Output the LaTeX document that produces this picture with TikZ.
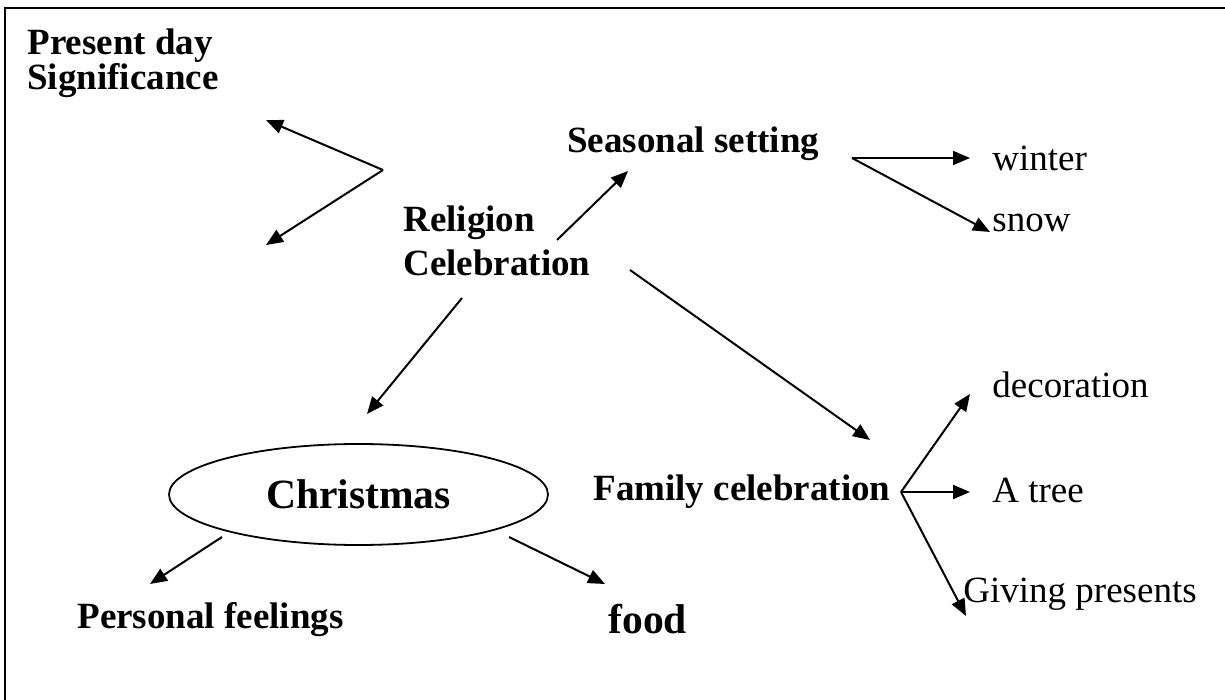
\documentclass[tikz,border=0pt]{standalone}
\usepackage{fontspec}
\setmainfont{Liberation Serif}
\usetikzlibrary{arrows.meta,shapes.geometric}
\begin{document}
\begin{tikzpicture}[x=0.5pt,y=-0.5pt,
  lbl/.style={anchor=base west,inner sep=0pt,font=\fontsize{18.5}{20}\selectfont\bfseries},
  leaf/.style={anchor=base west,inner sep=0pt,font=\fontsize{18.5}{20}\selectfont},
  big/.style={inner sep=0pt,font=\fontsize{20.8}{23}\selectfont\bfseries},
  conn/.style={line width=1pt,-{Triangle[length=8.5pt,width=7pt]}},
  frame/.style={line width=1pt}]
\useasboundingbox (0,0) rectangle (1225,700);
\fill[white] (0,0) rectangle (1225,700);
\draw[frame] (5,700) -- (5,8) -- (1225,8);
% texts
\node[lbl] (pd1) at (27,55) {Present day};
\node[lbl] (pd2) at (27,90) {Significance};
\node[lbl] (seas) at (567,153) {Seasonal setting};
\node[leaf] (winter) at (992,171) {winter};
\node[leaf] (snow) at (992,232) {snow};
\node[lbl] (rel1) at (403,232) {Religion};
\node[lbl] (rel2) at (403,275) {Celebration};
\node[leaf] (deco) at (992,397) {decoration};
\node[big,draw,ellipse,line width=0.9pt,minimum width=189.5pt,minimum height=50.5pt] (xmas) at (358.5,494.5) {Christmas};
\node[lbl] (family) at (593,500) {Family celebration};
\node[leaf] (tree) at (992,502) {A tree};
\node[leaf] (giving) at (963,602) {Giving presents};
\node[lbl] (personal) at (77,628) {Personal feelings};
\node[big,anchor=base west] (food) at (608,633) {food};
% connector end points
\coordinate (v1) at (383,170);
\coordinate (t1) at (266,120);
\coordinate (t2) at (266,245);
\coordinate (s0) at (557,240);
\coordinate (s1) at (628,171);
\coordinate (w0) at (852,158);
\coordinate (w1) at (970,158);
\coordinate (w2) at (990,232);
\coordinate (f0) at (630,270);
\coordinate (f1) at (870,440);
\coordinate (c0) at (462,298);
\coordinate (c1) at (367,414);
\coordinate (k0) at (901,492);
\coordinate (k1) at (970,394);
\coordinate (k2) at (970,492);
\coordinate (k3) at (966,616);
\coordinate (p0) at (222,537);
\coordinate (p1) at (150,584);
\coordinate (d0) at (509,537);
\coordinate (d1) at (605,584);
% connectors
\draw[conn] (v1) -- (t1);
\draw[conn] (v1) -- (t2);
\draw[conn] (s0) -- (s1);
\draw[conn] (w0) -- (w1);
\draw[conn] (w0) -- (w2);
\draw[conn] (f0) -- (f1);
\draw[conn] (c0) -- (c1);
\draw[conn] (k0) -- (k1);
\draw[conn] (k0) -- (k2);
\draw[conn] (k0) -- (k3);
\draw[conn] (p0) -- (p1);
\draw[conn] (d0) -- (d1);
\end{tikzpicture}
\end{document}
